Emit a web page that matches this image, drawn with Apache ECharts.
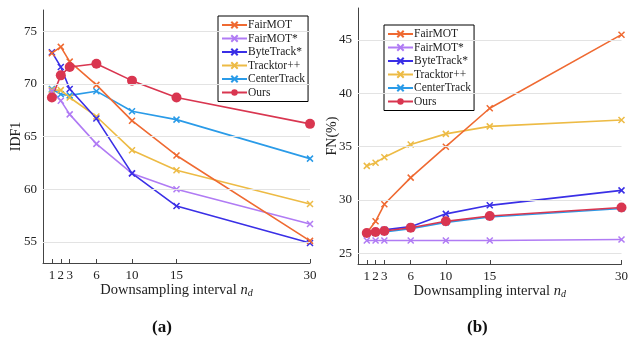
<!DOCTYPE html>
<html>
<head>
<meta charset="utf-8">
<script src="https://cdn.jsdelivr.net/npm/echarts@6/dist/echarts.min.js"></script>
<style>
  html, body { margin: 0; padding: 0; background: #fff; }
  #chart { width: 631px; height: 343px; }
</style>
</head>
<body>
<div id="chart"></div>
<script>
var intervals = [1, 2, 3, 6, 10, 15, 30];
var names = ['FairMOT', 'FairMOT*', 'ByteTrack*', 'Tracktor++', 'CenterTrack', 'Ours'];
var colors = ['#EF6A32', '#B07BF4', '#3A2FE6', '#EDBB45', '#2A9BE8', '#D93650'];

// IDF1 (a)
var idf1_fairmot = [72.9, 73.5, 72.1, 69.9, 66.5, 63.2, 55.1];
var idf1_fairmotStar = [69.3, 68.4, 67.1, 64.3, 61.5, 60.0, 56.7];
var idf1_bytetrack = [73.0, 71.6, 69.5, 66.7, 61.5, 58.4, 54.9];
var idf1_tracktor = [69.4, 69.4, 68.7, 66.9, 63.7, 61.8, 58.6];
var idf1_centertrack = [69.5, 69.0, 68.9, 69.3, 67.4, 66.6, 62.9];
var idf1_ours = [68.7, 70.8, 71.6, 71.9, 70.3, 68.7, 66.2];

// FN(%) (b)
var fn_fairmot = [26.9, 28.0, 29.6, 32.1, 35.0, 38.6, 45.5];
var fn_fairmotStar = [26.2, 26.2, 26.2, 26.2, 26.2, 26.2, 26.3];
var fn_bytetrack = [26.9, 27.0, 27.2, 27.5, 28.7, 29.5, 30.9];
var fn_tracktor = [33.2, 33.5, 34.0, 35.2, 36.2, 36.9, 37.5];
var fn_centertrack = [26.8, 26.9, 27.0, 27.3, 27.9, 28.4, 29.2];
var fn_ours = [26.9, 27.0, 27.1, 27.4, 28.0, 28.5, 29.3];

var idf1Ticks = [55, 60, 65, 70, 75];
var fnTicks = [25, 30, 35, 40, 45];

var idf1Data = [idf1_fairmot, idf1_fairmotStar, idf1_bytetrack, idf1_tracktor, idf1_centertrack, idf1_ours];
var fnData = [fn_fairmot, fn_fairmotStar, fn_bytetrack, fn_tracktor, fn_centertrack, fn_ours];

var serif = 'Liberation Serif';
var crossPath = 'path://M0,0L10,10M10,0L0,10';

function pairs(vals) {
    return intervals.map(function (x, i) { return [x, vals[i]]; });
}

function makeSeries(data, idx) {
    var out = [];
    // grid lines behind the curves
    out.push({
        type: 'line', name: 'grid' + idx, xAxisIndex: idx, yAxisIndex: idx, data: [], z: 1, silent: true,
        markLine: {
            silent: true, symbol: 'none', label: {show: false},
            lineStyle: {color: '#e3e3e3', width: 1, type: 'solid'},
            data: (idx == 0 ? idf1Ticks : fnTicks).map(function (v) { return {yAxis: v}; })
        }
    });
    // draw order so red ends on top
    [4, 3, 1, 2, 0, 5].forEach(function (k) {
        var ours = k == 5;
        out.push({
            type: 'line',
            name: names[k],
            xAxisIndex: idx, yAxisIndex: idx,
            data: pairs(data[k]),
            color: colors[k],
            symbol: ours ? 'circle' : crossPath,
            symbolSize: ours ? 10 : 6,
            lineStyle: {width: 1.6, color: colors[k]},
            itemStyle: {color: colors[k], borderColor: colors[k], borderWidth: ours ? 0 : 1.5},
            z: 3,
            animation: false
        });
    });
    return out;
}

function xAxis(idx) {
    return {
        type: 'value', gridIndex: idx, min: 0, max: 30,
        name: 'Downsampling interval {i|n}{s|d}',
        nameLocation: 'middle', nameGap: 19, nameMoveOverlap: false,
        nameTextStyle: {
            fontFamily: serif, fontSize: 14.5, color: '#222',
            rich: {
                i: {fontFamily: serif, fontStyle: 'italic', fontSize: 14.5, color: '#222'},
                s: {fontFamily: serif, fontStyle: 'italic', fontSize: 10, color: '#222', verticalAlign: 'bottom', padding: [6, 0, 0, 0]}
            }
        },
        axisLine: {lineStyle: {color: '#444', width: 1}},
        axisTick: {inside: true, length: 4, customValues: intervals, lineStyle: {color: '#444'}},
        axisLabel: {customValues: intervals, fontFamily: serif, fontSize: 13, color: '#222', margin: 6},
        splitLine: {show: false}
    };
}

function yAxis(idx, name, min, max, ticks, gap) {
    return {
        type: 'value', gridIndex: idx, min: min, max: max,
        name: name, nameLocation: 'middle', nameGap: gap, nameMoveOverlap: false,
        nameTextStyle: {fontFamily: serif, fontSize: 14, color: '#222'},
        axisLine: {show: true, lineStyle: {color: '#444', width: 1}},
        axisTick: {show: true, inside: true, length: 4, customValues: ticks, lineStyle: {color: '#444'}},
        axisLabel: {customValues: ticks, fontFamily: serif, fontSize: 13, color: '#222', margin: 6},
        splitLine: {show: false}
    };
}

function legend(left, top) {
    return {
        orient: 'vertical', left: left, top: top,
        data: names,
        itemWidth: 25, itemHeight: 8, itemGap: 1.5,
        padding: [3, 3, 3, 3],
        borderColor: '#000', borderWidth: 1, borderRadius: 0,
        backgroundColor: '#fff',
        selectedMode: false,
        textStyle: {fontFamily: serif, fontSize: 11.5, lineHeight: 10, color: '#222', padding: [0, 0, 0, -4]}
    };
}

var chart = echarts.init(document.getElementById('chart'));
chart.setOption({
    animation: false,
    backgroundColor: '#fff',
    title: [
        {text: '(a)', left: 152, top: 319, padding: 0, textStyle: {fontFamily: serif, fontWeight: 'bold', fontSize: 17, color: '#111'}},
        {text: '(b)', left: 467, top: 319, padding: 0, textStyle: {fontFamily: serif, fontWeight: 'bold', fontSize: 17, color: '#111'}}
    ],
    grid: [
        {left: 43, right: 321, top: 10, bottom: 80},
        {left: 358, right: 5, top: 8, bottom: 79}
    ],
    xAxis: [xAxis(0), xAxis(1)],
    yAxis: [
        yAxis(0, 'IDF1', 53, 77, idf1Ticks, 19.5),
        yAxis(1, 'FN(%)', 24, 48, fnTicks, 18.5)
    ],
    legend: [legend(218, 16), legend(384, 25)],
    series: makeSeries(idf1Data, 0).concat(makeSeries(fnData, 1))
});
</script>
</body>
</html>
